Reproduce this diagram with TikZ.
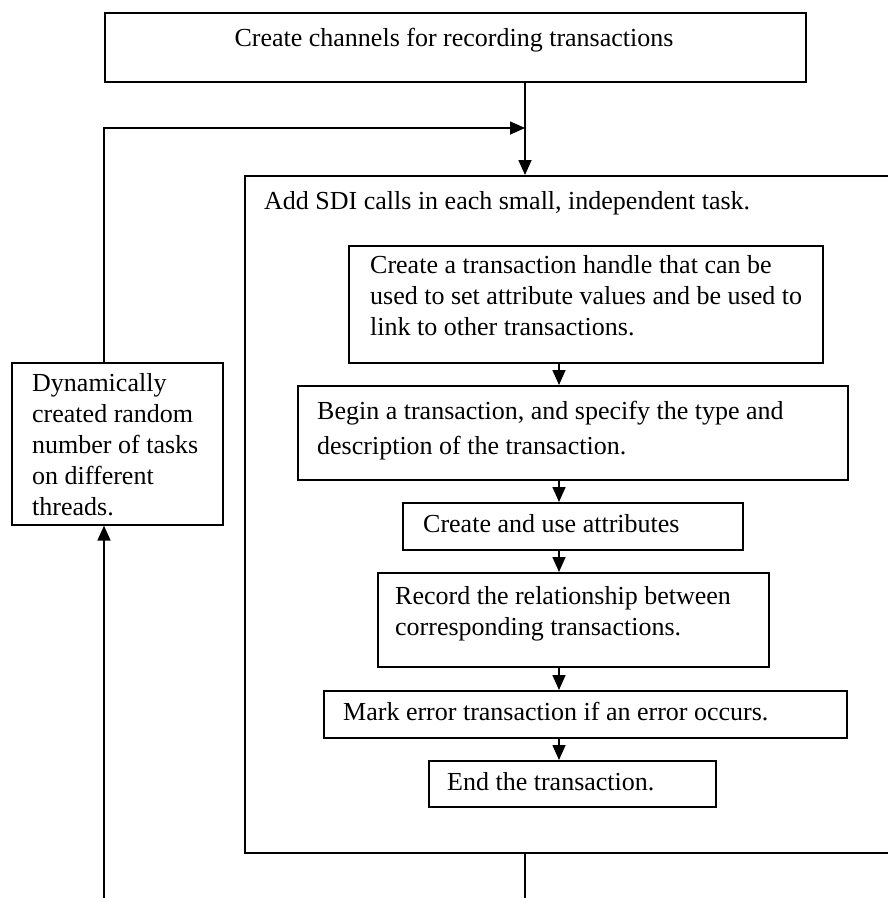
\documentclass[tikz,border=0pt]{standalone}
\usepackage{fontspec}
\setmainfont{Liberation Serif}
\usetikzlibrary{arrows.meta}
\begin{document}
\begin{tikzpicture}[x=1pt,y=-1pt,
  box/.style={draw, line width=1.6pt, inner sep=0pt, anchor=north west},
  txt/.style={inner sep=0pt, anchor=base west, font=\fontsize{26}{31}\selectfont, align=left},
  arr/.style={line width=1.6pt, -{Triangle[length=15pt,width=13pt]}},
  ln/.style={line width=1.6pt}]
\useasboundingbox (0,0) rectangle (888,898);
% boxes
\node[box, minimum width=701pt, minimum height=69pt] (top) at (104,12) {};
\node[box, minimum width=660pt, minimum height=677pt] (big) at (244,175) {};
\node[box, minimum width=211pt, minimum height=162pt] (left) at (11,362) {};
\node[box, minimum width=474pt, minimum height=117pt] (b1) at (348,245) {};
\node[box, minimum width=550pt, minimum height=94pt] (b2) at (297,385) {};
\node[box, minimum width=340pt, minimum height=47pt] (b3) at (402,502) {};
\node[box, minimum width=391pt, minimum height=94pt] (b4) at (377,572) {};
\node[box, minimum width=523pt, minimum height=47pt] (b5) at (323,690) {};
\node[box, minimum width=287pt, minimum height=46pt] (b6) at (428,760) {};
% texts (multi-line nodes are placed by the baseline of their last line)
\node[txt, anchor=base] (t0) at (454,46) {Create channels for recording transactions};
\node[txt] (tsdi) at (264,209) {Add SDI calls in each small, independent task.};
\node[txt] (t1) at (370,335) {Create a transaction handle that can be\\used to set attribute values and be used to\\link to other transactions.};
\node[txt] (t2) at (317,454) {Begin a transaction, and specify the type and\\[4pt]description of the transaction.};
\node[txt] (t3) at (423,532) {Create and use attributes};
\node[txt] (t4) at (395,635) {Record the relationship between\\corresponding transactions.};
\node[txt] (t5) at (343,720) {Mark error transaction if an error occurs.};
\node[txt] (t6) at (447,790) {End the transaction.};
\node[txt] (tl) at (32,515) {Dynamically\\created random\\number of tasks\\on different\\threads.};
% helper coordinates
\coordinate (a) at (559,0);
\coordinate (b) at (525,0);
\coordinate (c) at (104,0);
\coordinate (fb) at (525,128);
\coordinate (botR) at (525,898);
\coordinate (botL) at (104,898);
% connectors
\draw[arr] (top.south -| b) -- (big.north -| b);
\draw[arr] (left.north -| c) |- (fb);
\draw[arr] (botL) -- (left.south -| c);
\draw[ln] (big.south -| b) -- (botR);
\draw[arr] (b1.south -| a) -- (b2.north -| a);
\draw[arr] (b2.south -| a) -- (b3.north -| a);
\draw[arr] (b3.south -| a) -- (b4.north -| a);
\draw[arr] (b4.south -| a) -- (b5.north -| a);
\draw[arr] (b5.south -| a) -- (b6.north -| a);
\end{tikzpicture}
\end{document}
